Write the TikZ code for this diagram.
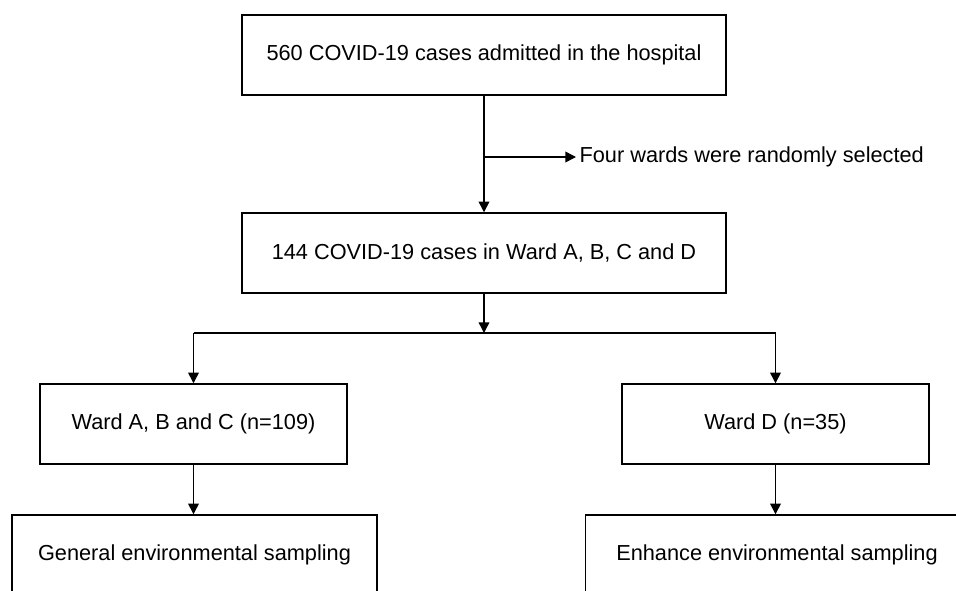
\documentclass[tikz,border=0pt]{standalone}
\usepackage{fontspec}
\setmainfont{Liberation Sans}
\usetikzlibrary{positioning}
\usetikzlibrary{arrows.meta}

\begin{document}
\begin{tikzpicture}[x=0.75pt, y=-0.75pt]
    \tikzstyle{box} = [draw=black, line width=1.1pt, fill=white, rectangle, minimum height=60pt, inner sep=0pt, font=\fontsize{16.3}{19}\selectfont];
    \tikzstyle{link} = [line width=1.1pt];
    \tikzstyle{pointer} = [line width=1.1pt, -{Triangle[length=8pt, width=8pt]}];

    \useasboundingbox (0, 0) rectangle (956, 590);
    \clip (0, 0) rectangle (956, 590);

    \node[box, minimum width=363pt] (admitted) at (484, 55)  {560 COVID-19 cases admitted in the hospital};
    \node[box, minimum width=363pt] (cases)    at (484, 253) {144 COVID-19 cases in Ward A, B, C and D};

    \coordinate (branch) at (484, 157);
    \node[anchor=west, inner sep=2.5pt, font=\fontsize{16.3}{19}\selectfont] (selected) at (576, 157) {Four wards were randomly selected};
    \draw [pointer] (admitted.south) -- (cases.north);
    \draw [pointer] (branch) -- (selected.west);

    \node[box, minimum width=230pt] (ward-abc) at (193.5, 424) {Ward A, B and C (n=109)};
    \node[box, minimum width=230pt] (ward-d)   at (775.5, 424) {Ward D (n=35)};

    \node[box, minimum width=274pt] (general)  at (194.5, 555) {General environmental sampling};
    \node[box, minimum width=287pt] (enhance)  at (777, 555)   {Enhance environmental sampling};

    % split towards the wards
    \coordinate (split) at (484, 333);
    \draw [pointer] (cases.south) -- (split);
    \draw [link] (ward-abc.north |- split) -- (ward-d.north |- split);
    \draw [pointer] (ward-abc.north |- split) -- (ward-abc.north);
    \draw [pointer] (ward-d.north |- split) -- (ward-d.north);

    \draw [pointer] (ward-abc.south) -- (ward-abc.south |- general.north);
    \draw [pointer] (ward-d.south) -- (ward-d.south |- enhance.north);
\end{tikzpicture}
\end{document}
